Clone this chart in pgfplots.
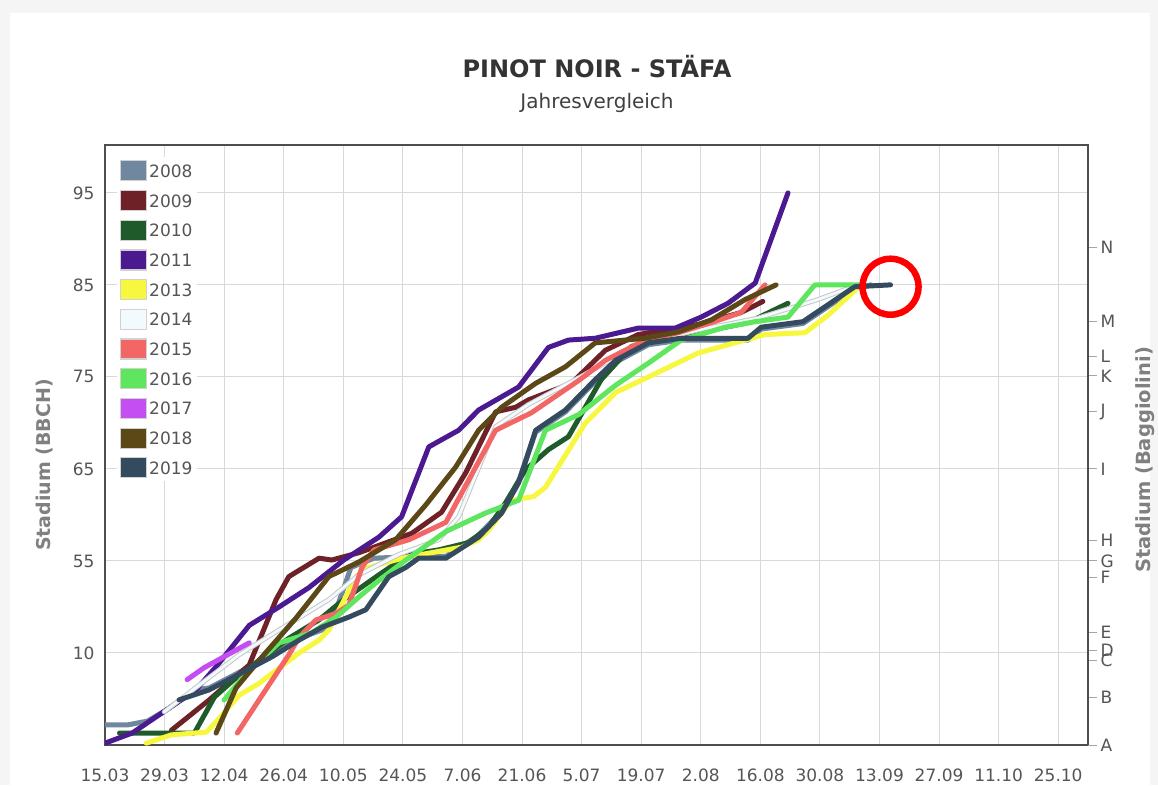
\documentclass[border=0pt]{standalone}
\usepackage{fontspec}
\setmainfont{DejaVu Sans}
\usepackage{pgfplots}
\pgfplotsset{compat=1.18}
\definecolor{c2008}{HTML}{6F88A0}
\definecolor{c2009}{HTML}{6E2227}
\definecolor{c2010}{HTML}{1F5A2A}
\definecolor{c2011}{HTML}{4B1A91}
\definecolor{c2013}{HTML}{F7F740}
\definecolor{c2014}{HTML}{F2FAFD}
\definecolor{c2015}{HTML}{F26666}
\definecolor{c2016}{HTML}{5EE65E}
\definecolor{c2017}{HTML}{C54EF2}
\definecolor{c2018}{HTML}{5C4716}
\definecolor{c2019}{HTML}{344A5E}
\definecolor{framec}{HTML}{4E4E4E}
\definecolor{labc}{HTML}{555555}
\pgfplotsset{
  swatch/.style={legend image code/.code={\filldraw[fill=#1, draw=black!18, line width=1.2pt] (0pt,-9pt) rectangle (26pt,11pt);}},
  ser/.style={color=#1, line width=5pt, line join=round, line cap=round, mark=none, swatch=#1},
}
\begin{document}
\begin{tikzpicture}
\useasboundingbox (0,0) rectangle (1158pt,785pt);
\fill[black!4] (0,0) rectangle (1158pt,785pt);
\fill[white] (10pt,0) rectangle (1150pt,772pt);
\begin{axis}[
  at={(105pt,40pt)}, anchor=south west,
  width=983pt, height=600pt, scale only axis,
  xmin=0, xmax=231, ymin=35, ymax=100.2,
  xtick={0,14,...,224},
  xticklabels={15.03,29.03,12.04,26.04,10.05,24.05,7.06,21.06,5.07,19.07,2.08,16.08,30.08,13.09,27.09,11.10,25.10},
  ytick={45,55,65,75,85,95}, yticklabels={10,55,65,75,85,95},
  grid=major, major grid style={draw=black!15, line width=1pt},
  axis line style={draw=framec, line width=2.6pt},
  tick style={draw=none},
  /pgf/number format/assume math mode=true,
  tick label style={font=\fontsize{17}{20}\selectfont, text=labc},
  xticklabel style={yshift=-20pt},
  yticklabel style={xshift=-7pt},
  legend style={at={(0.012,0.98)}, anchor=north west, draw=none, fill=white,
    font=\fontsize{17}{20}\selectfont, text=labc, row sep=8.5pt, inner sep=3pt},
  legend cell align=left,
]
\addplot[ser=c2008] coordinates {(0,37.2) (5.5,37.2) (10,37.6) (14.4,38.8) (21.4,41.0) (24.5,41.2) (29.9,42.5) (39.3,44.8) (45.6,46.6) (51.0,47.5) (53.8,49.0) (57.8,54.3) (63.2,55.3) (73.7,55.5) (80.1,55.5) (87.8,57.8) (93.2,60.4) (97.2,63.7) (101.2,69.0) (108.2,71.2) (115.2,74.5) (120.0,76.6) (127.7,78.5) (135.4,79.0) (151.1,79.0) (154.2,80.2) (164.0,80.8) (176.2,84.6) (180.0,85.0)};
\addlegendentry{2008}
\addplot[ser=c2009] coordinates {(15.6,36.6) (24.5,39.9) (33.9,43.7) (40.2,50.8) (43.2,53.3) (50.3,55.3) (53.3,55.1) (59.7,55.9) (72.1,58.0) (79.1,60.3) (84.8,64.6) (91.8,71.2) (96.5,71.7) (99.5,72.5) (109.6,74.3) (117.6,77.9) (125.3,79.6) (139.4,80.7) (149.5,82.0) (154.6,83.2)};
\addlegendentry{2009}
\addplot[ser=c2010] coordinates {(3.4,36.3) (21.0,36.3) (25.7,40.2) (30.3,42.1) (36.2,44.2) (43.2,46.6) (50.3,48.6) (56.1,50.8) (64.4,53.5) (71.4,55.7) (78.4,56.2) (85.5,57.0) (90.2,58.7) (94.1,61.3) (98.8,64.9) (104.2,67.1) (108.9,68.5) (116.6,74.7) (123.7,78.3) (130.0,79.2) (139.4,79.8) (151.1,80.9) (160.5,83.0)};
\addlegendentry{2010}
\addplot[ser=c2011] coordinates {(0,35.2) (6.4,36.3) (14.4,38.8) (21.4,41.0) (26.1,43.5) (33.9,48.0) (40.9,50.0) (47.9,52.1) (56.1,55.1) (64.4,57.6) (69.7,59.8) (76.1,67.4) (83.1,69.2) (87.8,71.4) (97.2,73.9) (104.2,78.2) (108.9,79.0) (115.2,79.2) (125.3,80.3) (134.0,80.3) (140.1,81.5) (146.4,83.0) (152.8,85.2) (160.5,95.0)};
\addlegendentry{2011}
\addplot[ser=c2013] coordinates {(9.7,35.2) (15.6,36.1) (23.8,36.4) (26.1,37.5) (31.5,40.4) (36.2,41.7) (45.6,45.0) (50.3,46.4) (52.6,47.5) (59.0,53.3) (62.0,54.3) (70.7,55.4) (74.4,55.7) (83.8,56.5) (87.8,57.3) (90.2,58.4) (95.5,61.6) (100.7,62.0) (103.5,63.0) (112.9,70.0) (120.0,73.3) (127.7,75.0) (139.4,77.6) (155.1,79.6) (164.5,79.8) (169.9,81.7) (177.4,84.9)};
\addlegendentry{2013}
\addplot[color=black!22, line width=4.8pt, line join=round, line cap=round, forget plot] coordinates {(13.9,38.6) (22.1,41.5) (31.5,44.8) (40.9,47.5) (52.6,50.8) (59.7,53.5) (69.0,55.7) (78.4,57.3) (83.1,59.8) (91.8,69.6) (99.5,72.0) (111.3,74.9) (125.3,78.5) (139.4,80.1) (153.5,81.4) (167.5,83.4) (176.9,85.0)};
\addplot[ser=c2014, line width=2.8pt] coordinates {(13.9,38.6) (22.1,41.5) (31.5,44.8) (40.9,47.5) (52.6,50.8) (59.7,53.5) (69.0,55.7) (78.4,57.3) (83.1,59.8) (91.8,69.6) (99.5,72.0) (111.3,74.9) (125.3,78.5) (139.4,80.1) (153.5,81.4) (167.5,83.4) (176.9,85.0)};
\addlegendentry{2014}
\addplot[ser=c2015] coordinates {(31.1,36.3) (36.2,39.9) (43.2,44.8) (45.6,46.7) (49.6,48.6) (54.3,49.3) (57.3,50.2) (60.4,54.3) (63.2,56.2) (71.4,57.3) (80.1,59.2) (91.8,69.2) (100.2,71.1) (111.3,74.6) (117.6,76.8) (126.9,79.0) (134.7,79.8) (142.5,80.9) (149.5,82.0) (155.1,85.0)};
\addlegendentry{2015}
\addplot[ser=c2016] coordinates {(28.0,39.9) (33.2,42.8) (40.9,46.1) (48.6,47.2) (54.3,48.9) (59.7,51.1) (64.4,52.9) (70.7,55.1) (80.1,58.2) (89.4,60.2) (97.2,61.6) (103.5,69.2) (111.3,70.9) (120.0,74.1) (127.7,76.5) (135.4,79.0) (145.7,80.4) (152.8,81.0) (160.5,81.5) (166.8,85.0) (177.4,85.0)};
\addlegendentry{2016}
\addplot[ser=c2017] coordinates {(19.3,42.1) (23.3,43.4) (33.9,46.1)};
\addlegendentry{2017}
\addplot[ser=c2018] coordinates {(26.1,36.3) (30.8,41.2) (36.2,44.2) (44.9,48.8) (52.6,53.3) (59.7,54.9) (68.3,57.3) (75.4,61.1) (82.4,65.2) (87.8,69.2) (93.2,71.7) (101.2,74.3) (108.2,76.1) (115.2,78.7) (126.9,79.2) (134.7,79.9) (142.5,81.2) (150.4,83.4) (157.7,85.0)};
\addlegendentry{2018}
\addplot[ser=c2019] coordinates {(17.4,39.9) (24.5,41.0) (29.9,42.3) (39.3,44.6) (45.6,46.4) (51.0,47.8) (57.3,48.9) (61.3,49.7) (66.7,53.3) (70.7,54.3) (73.7,55.3) (80.1,55.3) (87.8,57.6) (93.2,60.2) (97.2,63.5) (101.2,69.2) (108.2,71.4) (115.2,74.7) (120.0,76.8) (127.7,78.7) (135.4,79.2) (151.1,79.2) (154.2,80.4) (164.0,81.0) (176.2,84.8) (184.6,85.0)};
\addlegendentry{2019}
\draw[red, line width=6.5pt] (axis cs:184.6,84.8) circle[radius=28pt];
\end{axis}
\begin{axis}[
  at={(105pt,40pt)}, anchor=south west,
  width=983pt, height=600pt, scale only axis,
  xmin=0, xmax=231, ymin=35, ymax=100.2,
  axis x line=none, axis y line*=right,
  ytick={35,40.2,44.2,45.3,47.2,53.2,55,57.2,65,71.2,75.1,77.2,81,89.1},
  yticklabels={A,B,C,D,E,F,G,H,I,J,K,L,M,N},
  tick align=outside, major tick length=9pt,
  tick style={draw=black!35, line width=1pt},
  axis line style={draw=framec, line width=2.6pt},
  yticklabel style={font=\fontsize{17}{20}\selectfont, text=labc},
]
\end{axis}
\node[anchor=base, font=\bfseries\fontsize{24}{28}\selectfont, text=black!80] at (597pt,707pt) {PINOT NOIR - STÄFA};
\node[anchor=base, font=\fontsize{20}{24}\selectfont, text=black!75] at (597pt,676pt) {Jahresvergleich};
\node[rotate=90, font=\bfseries\fontsize{19}{22}\selectfont, text=black!50] at (45pt,320pt) {Stadium (BBCH)};
\node[rotate=90, font=\bfseries\fontsize{19.5}{23}\selectfont, text=black!50] at (1145pt,325pt) {Stadium (Baggiolini)};
\end{tikzpicture}
\end{document}
